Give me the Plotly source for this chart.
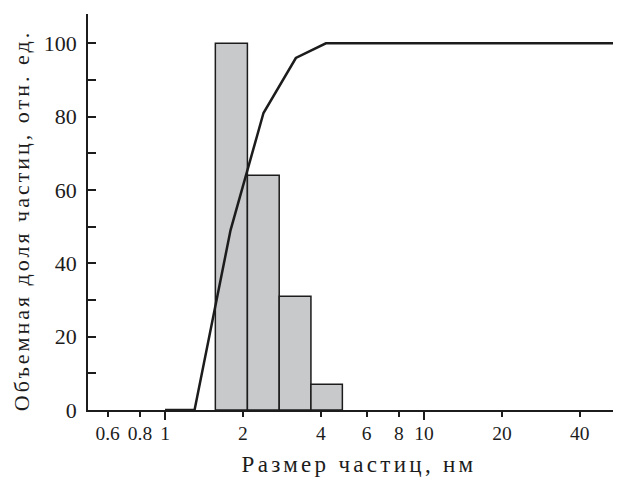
import math
import plotly.graph_objects as go

# Histogram bins (particle size, nm) and volume fractions
bin_edges = [1.564, 2.08, 2.76, 3.66, 4.84]
bar_heights = [100, 64, 31, 7]

# Cumulative curve
cum_x = [1.0, 1.30, 1.79, 2.40, 3.20, 4.18, 56.0]
cum_y = [0, 0, 49, 81, 96, 100, 100]

x_tickvals = [0.6, 0.8, 1, 2, 4, 6, 8, 10, 20, 40]
x_ticktext = ["0.6", "0.8", "1", "2", "4", "6", "8", "10", "20", "40"]
x_major = [1, 10]
y_tickvals = [0, 20, 40, 60, 80, 100]
y_minor = [10, 30, 50, 70, 90]

x_title = "Размер частиц, нм"
y_title = "Объемная доля частиц, отн. ед."

FONT = "Liberation Serif"
INK = "#1c1c1c"

def spaced(t, px):
    return '<span style="letter-spacing:%spx">%s</span>' % (px, t)

fig = go.Figure()

for i, h in enumerate(bar_heights):
    l, r = bin_edges[i], bin_edges[i + 1]
    fig.add_trace(go.Scatter(
        x=[l, l, r, r, l], y=[0, h, h, 0, 0],
        mode="lines", fill="toself", fillcolor="#c8c9cb",
        line=dict(color=INK, width=1.5), hoverinfo="skip", showlegend=False))

fig.add_trace(go.Scatter(x=cum_x, y=cum_y, mode="lines",
                         line=dict(color=INK, width=2.5), showlegend=False))

# invisible trace for the overlay axis carrying the long ticks
fig.add_trace(go.Scatter(x=x_major, y=[0, 0], xaxis="x2", mode="markers",
                         marker=dict(opacity=0), hoverinfo="skip", showlegend=False))

xr = [math.log10(0.504), 1.761]

fig.update_layout(
    width=613, height=474,
    margin=dict(l=80, r=0, t=6, b=72),
    paper_bgcolor="white", plot_bgcolor="white",
    font=dict(family=FONT, size=19, color=INK),
    xaxis=dict(type="log", range=xr, showgrid=False, zeroline=False,
               showline=True, linecolor=INK, linewidth=1.5,
               tickmode="array", tickvals=x_tickvals, ticktext=x_ticktext,
               ticks="outside", ticklen=5, tickwidth=1.5, tickcolor=INK,
               tickfont=dict(family=FONT, size=19.5),
               title=dict(text=spaced("&nbsp;" + x_title, 3.3), font=dict(family=FONT, size=23), standoff=13)),
    xaxis2=dict(type="log", range=xr, overlaying="x", anchor="y", side="bottom",
                showgrid=False, zeroline=False, showline=False,
                tickmode="array", tickvals=x_major, showticklabels=False,
                ticks="outside", ticklen=9, tickwidth=1.5, tickcolor=INK),
    yaxis=dict(range=[0, 108], showgrid=False, zeroline=False,
               showline=True, linecolor=INK, linewidth=1.5,
               tickmode="array", tickvals=y_tickvals,
               ticks="inside", ticklen=8, tickwidth=1.5, tickcolor=INK,
               ticklabelstandoff=5,
               minor=dict(tickmode="array", tickvals=y_minor,
                          ticks="inside", ticklen=8, tickwidth=1.5, tickcolor=INK),
               tickfont=dict(family=FONT, size=22),
               title=dict(text=spaced(y_title + "&nbsp;&nbsp;", 3), font=dict(family=FONT, size=22), standoff=8)),
)

fig.write_html("out.html")
